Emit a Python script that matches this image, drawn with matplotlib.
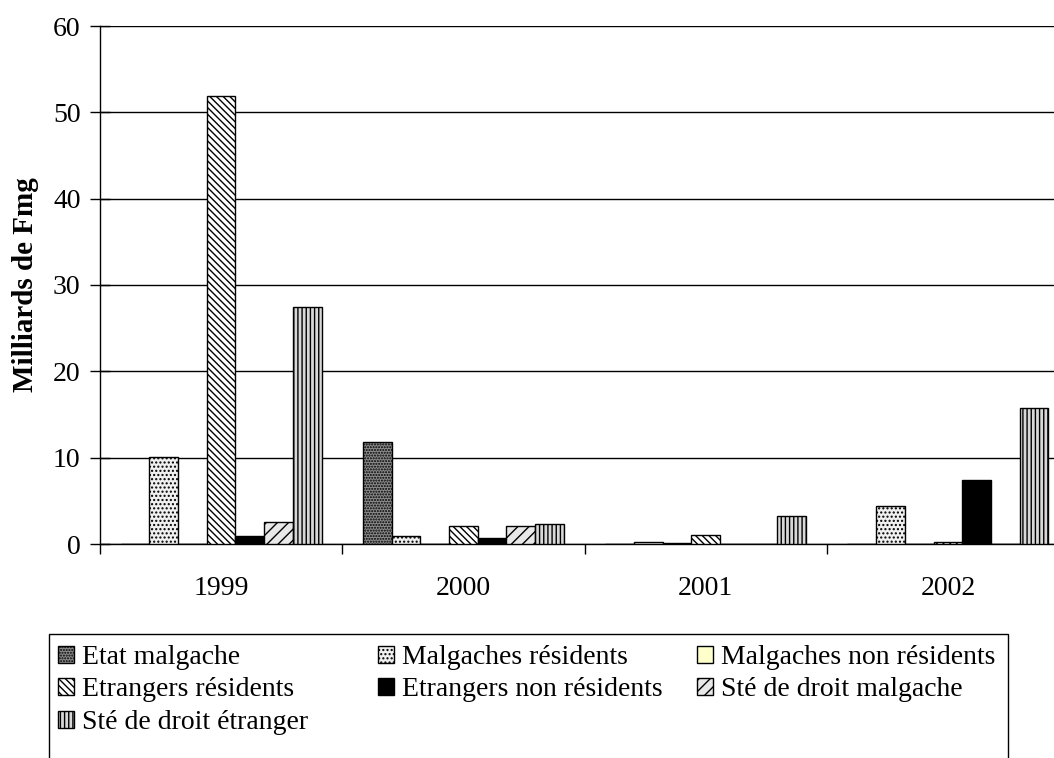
import numpy as np
import matplotlib; matplotlib.use("Agg")
import matplotlib.pyplot as plt
from matplotlib.patches import Rectangle

plt.rcParams["font.family"] = ["Liberation Serif", "DejaVu Serif"]
plt.rcParams["hatch.linewidth"] = 1.0

years = ["1999", "2000", "2001", "2002"]
series = ["Etat malgache", "Malgaches résidents", "Malgaches non résidents",
          "Etrangers résidents", "Etrangers non résidents",
          "Sté de droit malgache", "Sté de droit étranger"]
etat_malgache = [0, 11.8, 0, 0]
malg_res = [10.1, 0.9, 0.25, 4.4]
malg_non_res = [0, 0, 0.1, 0]
etr_res = [51.9, 2.1, 1.1, 0.25]
etr_non_res = [0.9, 0.7, 0, 7.4]
ste_malg = [2.5, 2.1, 0, 0]
ste_etr = [27.5, 2.3, 3.2, 15.7]
values = [etat_malgache, malg_res, malg_non_res, etr_res, etr_non_res, ste_malg, ste_etr]

faces = ["#8c8c8c", "#f0f0f0", "#ffffcc", "white", "black", "#e8e8e8", "#d8d8d8"]
hatches = ["......", "....", None, "\\\\\\\\\\", None, "///", "||||"]

W, H = 1054, 758
fig = plt.figure(figsize=(W / 100, H / 100), dpi=100)
ax = fig.add_axes([100/W, 1 - 544/H, 969/W, 518/H])

x = np.arange(len(years))
w = 0.1186
bars = []
for i, (name, v) in enumerate(zip(series, values)):
    b = ax.bar(x + (i - 3) * w, v, w, color=faces[i], edgecolor="black", lw=1,
               hatch=hatches[i], label=name, zorder=3)
    bars.append(b)

ax.set_xlim(-0.5, 3.5)
ax.set_ylim(0, 60)
ax.set_yticks(range(0, 61, 10))
ax.yaxis.grid(True, color="black", lw=1)
ax.set_axisbelow(True)
ax.set_xticks(x)
ax.set_xticklabels(years)
ax.set_xticks(np.arange(-0.5, 3.6, 1), minor=True)
ax.tick_params(axis="x", which="major", length=0, pad=23, labelsize=20)
ax.tick_params(axis="x", which="minor", length=7, width=1)
ax.tick_params(axis="y", direction="inout", length=14, width=1, labelsize=20, pad=7)
for s in ["right", "top"]:
    ax.spines[s].set_visible(False)
ax.spines["left"].set_linewidth(1)
ax.spines["bottom"].set_linewidth(1)
ax.set_ylabel("Milliards de Fmg", fontsize=21, fontweight="bold", labelpad=10)

# legend: three equal-width columns, filled row by row
cols = [[0, 3, 6], [1, 4], [2, 5]]
col_x = [58, 378, 697]
for idx, cx in zip(cols, col_x):
    fig.legend([bars[i] for i in idx], [series[i] for i in idx],
               loc="upper left", bbox_to_anchor=(cx / W, 1 - 645 / H),
               ncol=1, fontsize=20, frameon=False,
               handlelength=0.58, handleheight=0.58, handletextpad=0.3,
               borderaxespad=0, borderpad=0, labelspacing=0.27)
fig.add_artist(Rectangle((49 / W, 1 - 790 / H), 959 / W, 156 / H,
                         transform=fig.transFigure, fill=False,
                         edgecolor="black", lw=1, clip_on=False))

fig.savefig("out.png", dpi=100)
